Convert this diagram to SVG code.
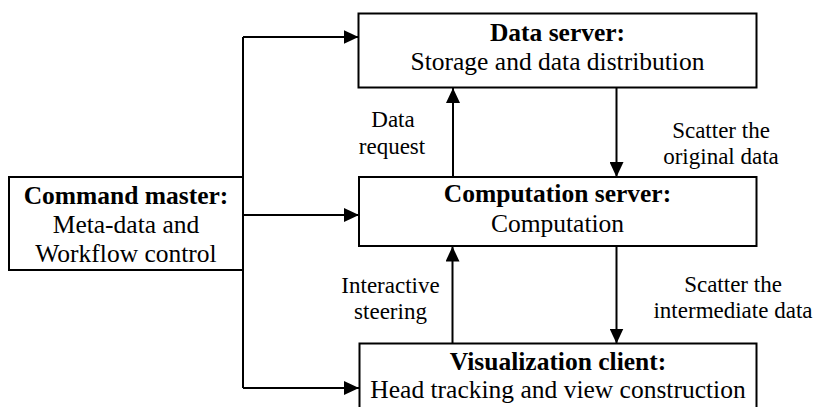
<svg xmlns="http://www.w3.org/2000/svg" width="815" height="407" viewBox="0 0 815 407">
  <style>
    .box { fill: #ffffff; stroke: #000000; stroke-width: 2; }
    .wire { fill: none; stroke: #000000; stroke-width: 2; }
    text { font-family: 'Times New Roman', 'Liberation Serif', Tinos, 'DejaVu Serif', 'Noto Serif', Times, serif; }
    .title { font-size: 25.5px; font-weight: bold; }
    .body { font-size: 25.5px; }
    .label { font-size: 23px; }
  </style>
  <defs>
    <marker id="arrow" viewBox="0 0 15 14" refX="15" refY="7" markerWidth="15" markerHeight="14" markerUnits="userSpaceOnUse" orient="auto">
      <path d="M0,0 L15,7 L0,14 z" fill="#000000"/>
    </marker>
  </defs>
  <rect width="815" height="407" fill="#ffffff"/>

  <g text-anchor="middle" fill="#000000">
  <!-- connectors -->
  <g id="connectors">
    <!-- command bus -->
    <path class="wire" d="M243,37 L243,388"/>
    <path class="wire" d="M243,37 L358.5,37" marker-end="url(#arrow)"/>
    <path class="wire" d="M243,215 L359,215" marker-end="url(#arrow)"/>
    <path class="wire" d="M243,388 L359,388" marker-end="url(#arrow)"/>
    <!-- data request (up) -->
    <path class="wire" d="M453,177 L453,88" marker-end="url(#arrow)"/>
    <!-- scatter original data (down) -->
    <path class="wire" d="M616.5,88 L616.5,177" marker-end="url(#arrow)"/>
    <!-- interactive steering (up) -->
    <path class="wire" d="M452.5,343.5 L452.5,246.5" marker-end="url(#arrow)"/>
    <!-- scatter intermediate data (down) -->
    <path class="wire" d="M616.5,246.5 L616.5,343.5" marker-end="url(#arrow)"/>

    <text class="label" x="393" y="127">Data</text>
    <text class="label" x="392" y="154">request</text>
    <text class="label" x="721" y="138">Scatter the</text>
    <text class="label" x="721" y="164">original data</text>
    <text class="label" x="390.5" y="293">Interactive</text>
    <text class="label" x="390.5" y="319">steering</text>
    <text class="label" x="733" y="292">Scatter the</text>
    <text class="label" x="733" y="318">intermediate data</text>
  </g>

  <g id="data-server">
    <rect class="box" x="358.5" y="13.5" width="398" height="74"/>
    <text class="title" x="557.5" y="40.5">Data server:</text>
    <text class="body" x="557.5" y="70">Storage and data distribution</text>
  </g>

  <g id="computation-server">
    <rect class="box" x="359" y="177" width="397.5" height="69"/>
    <text class="title" x="557.5" y="201.5">Computation server:</text>
    <text class="body" x="557.5" y="231.5">Computation</text>
  </g>

  <g id="visualization-client">
    <rect class="box" x="359.5" y="343.5" width="397" height="70"/>
    <text class="title" x="558" y="369.5">Visualization client:</text>
    <text class="body" x="558" y="398">Head tracking and view construction</text>
  </g>

  <g id="command-master">
    <rect class="box" x="9" y="177" width="234" height="93"/>
    <text class="title" x="126" y="204">Command master:</text>
    <text class="body" x="126" y="233">Meta-data and</text>
    <text class="body" x="126" y="262">Workflow control</text>
  </g>
  </g>
</svg>
